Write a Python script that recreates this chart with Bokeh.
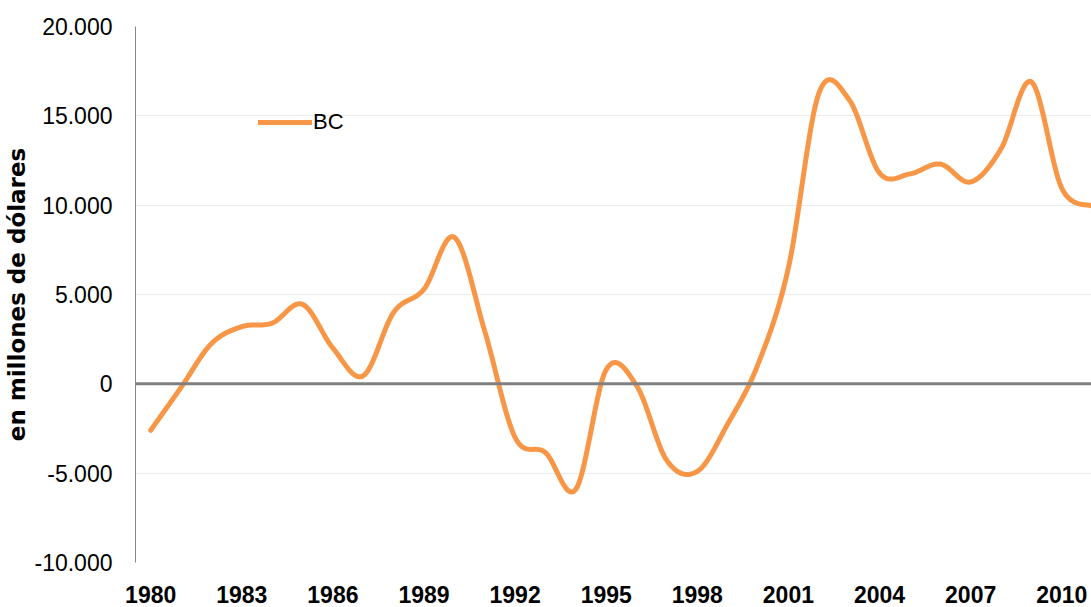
import numpy as np
from bokeh.plotting import figure
from bokeh.models import FixedTicker, Span, Legend, LegendItem, Range1d
from bokeh.embed import file_html
from bokeh.resources import INLINE

years = list(range(1980, 2012))
bc = [-2600, -200, 2250, 3200, 3400, 4450, 2000, 450, 4000, 5300, 8200, 2950,
      -3000, -3850, -5900, 800, -100, -4300, -4900, -2250, 1100, 6500, 16250,
      15900, 11800, 11750, 12300, 11300, 13150, 16900, 10950, 9950]
x_ticks = list(range(1980, 2011, 3))
y_ticks = [-10000, -5000, 0, 5000, 10000, 15000, 20000]
y_tick_labels = ["-10.000", "-5.000", "0", "5.000", "10.000", "15.000", "20.000"]
series_name = "BC"
y_title = "en millones de dólares"


def smooth(xs, ys, n=24):
    """Excel-style smoothed line (cubic Bezier through the data points)."""
    P = np.column_stack([np.asarray(xs, float), np.asarray(ys, float)])
    out = []
    m = len(P)
    for i in range(m - 1):
        p0 = P[i - 1] if i > 0 else P[i]
        p1 = P[i]
        p2 = P[i + 1]
        p3 = P[i + 2] if i + 2 < m else P[i + 1]
        c1 = p1 + (p2 - p0) / 6.0
        c2 = p2 - (p3 - p1) / 6.0
        t = np.linspace(0, 1, n, endpoint=(i == m - 2))[:, None]
        seg = ((1 - t) ** 3) * p1 + 3 * ((1 - t) ** 2) * t * c1 + 3 * (1 - t) * t ** 2 * c2 + t ** 3 * p2
        out.append(seg)
    S = np.vstack(out)
    return S[:, 0], S[:, 1]


sx, sy = smooth(years, bc)

p = figure(width=1091, height=607, output_backend="svg", toolbar_location=None,
           x_range=Range1d(1979.5, 2010.98), y_range=Range1d(-10000, 20000),
           min_border_left=135, min_border_right=0, min_border_top=26, min_border_bottom=45)
p.outline_line_color = None
p.background_fill_color = "white"
p.border_fill_color = "white"

# grid
p.xgrid.grid_line_color = None
p.ygrid.ticker = FixedTicker(ticks=y_ticks)
p.ygrid.grid_line_color = "#EBEBEB"
p.ygrid.grid_line_width = 1

# y axis
p.yaxis.ticker = FixedTicker(ticks=y_ticks)
p.yaxis.major_label_overrides = dict(zip(y_ticks, y_tick_labels))
p.yaxis.axis_line_color = "#868686"
p.yaxis.major_tick_line_color = None
p.yaxis.minor_tick_line_color = None
p.yaxis.major_label_text_font = "Liberation Sans"
p.yaxis.major_label_text_font_size = "23px"
p.yaxis.major_label_text_color = "black"
p.yaxis.major_label_standoff = 17
p.yaxis.axis_label = y_title
p.yaxis.axis_label_text_font = "DejaVu Sans"
p.yaxis.axis_label_text_font_style = "bold"
p.yaxis.axis_label_text_font_size = "23px"
p.yaxis.axis_label_text_color = "black"
p.yaxis.axis_label_standoff = 1

# x axis
p.xaxis.ticker = FixedTicker(ticks=x_ticks)
p.xaxis.axis_line_color = None
p.xaxis.major_tick_line_color = None
p.xaxis.minor_tick_line_color = None
p.xaxis.major_label_text_font = "Liberation Sans"
p.xaxis.major_label_text_font_style = "bold"
p.xaxis.major_label_text_font_size = "23px"
p.xaxis.major_label_text_color = "black"
p.xaxis.major_label_standoff = 17

# zero line
p.add_layout(Span(location=0, dimension="width", line_color="#808080", line_width=3))

r = p.line(sx, sy, line_color="#F79646", line_width=5, line_cap="round", line_join="round")

legend = Legend(items=[LegendItem(label=series_name, renderers=[r])],
                location=(123, 427), glyph_width=54, glyph_height=26, label_height=26,
                label_standoff=1, padding=0, margin=0, border_line_color=None,
                background_fill_alpha=0, label_text_font="Liberation Sans",
                label_text_font_size="22px", label_text_color="black")
p.add_layout(legend, "center")

open("out.html", "w").write(file_html(p, INLINE))
